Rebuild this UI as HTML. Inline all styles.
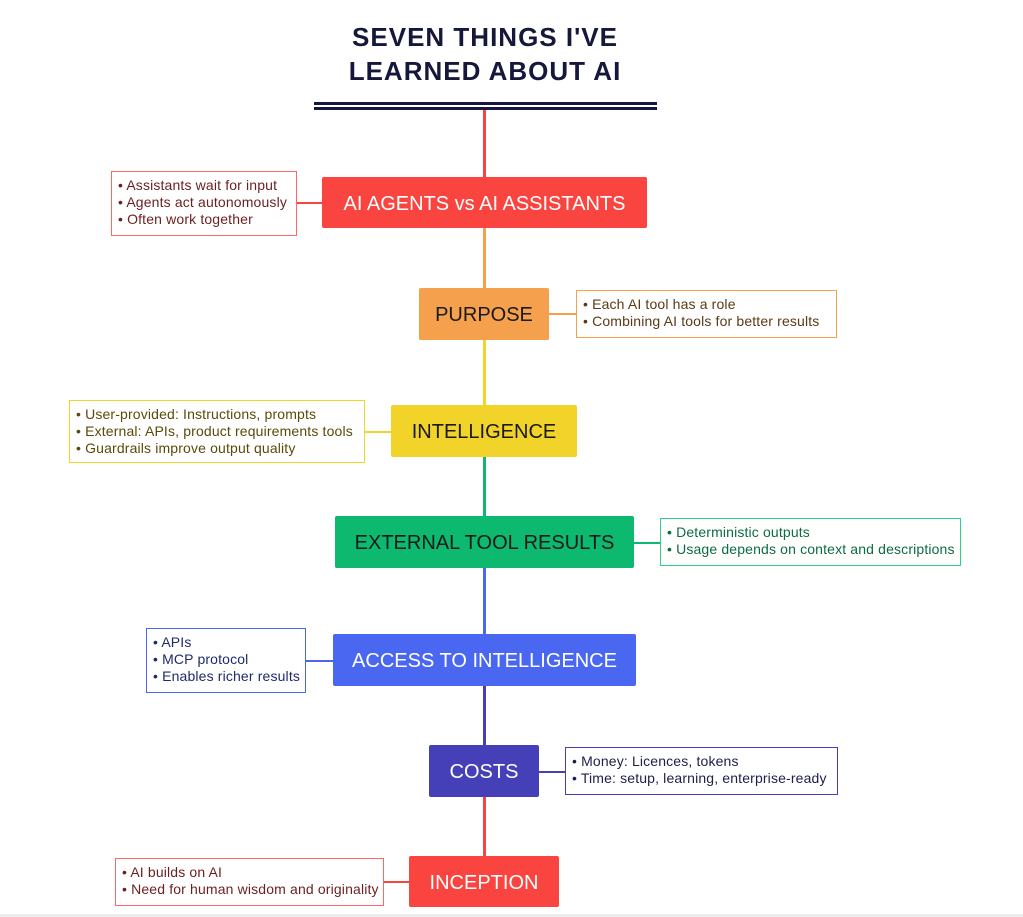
<!DOCTYPE html>
<html><head><meta charset="utf-8"><style>
body{margin:0;width:1023px;height:917px;background:#fff;position:relative;overflow:hidden;font-family:"Liberation Sans",sans-serif}
.a{position:absolute}
.n{position:absolute;display:flex;align-items:center;justify-content:center;font-size:20px;box-sizing:border-box;border-radius:2px;padding-top:3px}
.b{position:absolute;background:#fff;box-sizing:border-box;border:1.5px solid;font-size:14px;letter-spacing:0.15px;line-height:17px;padding:5px 0 0 6px;white-space:nowrap}
.v{position:absolute;width:3px}
.h{position:absolute;height:1.5px}
</style></head><body>
<div class="a" style="left:300px;top:20px;width:370px;text-align:center;font-size:26px;font-weight:bold;color:#15183a;line-height:34px;letter-spacing:1px">SEVEN THINGS I'VE<br>LEARNED ABOUT AI</div>
<div class="a" style="left:314px;top:102px;width:343px;height:3px;background:#15183a"></div>
<div class="a" style="left:314px;top:107px;width:343px;height:3px;background:#15183a"></div>

<div class="v" style="left:483px;top:110px;height:67px;background:#f94440"></div>
<div class="v" style="left:483px;top:228px;height:60px;background:#f4a04c"></div>
<div class="v" style="left:483px;top:340px;height:65px;background:#f2d32a"></div>
<div class="v" style="left:483px;top:457px;height:59px;background:#0db96f"></div>
<div class="v" style="left:483px;top:568px;height:66px;background:#4a67f2"></div>
<div class="v" style="left:483px;top:686px;height:59px;background:#4540b8"></div>
<div class="v" style="left:483px;top:797px;height:59px;background:#f94440"></div>

<div class="h" style="left:297px;top:202px;width:25px;background:#f94440"></div>
<div class="h" style="left:549px;top:313px;width:27px;background:#f4a04c"></div>
<div class="h" style="left:365px;top:431px;width:26px;background:#f2d32a"></div>
<div class="h" style="left:634px;top:542px;width:26px;background:#0db96f"></div>
<div class="h" style="left:306px;top:660px;width:27px;background:#4a67f2"></div>
<div class="h" style="left:539px;top:771px;width:26px;background:#4540b8"></div>
<div class="h" style="left:384px;top:881px;width:25px;background:#f94440"></div>

<div class="n" style="left:322px;top:177px;width:325px;height:51px;background:#f94440;color:#fff">AI AGENTS vs AI ASSISTANTS</div>
<div class="n" style="left:419px;top:288px;width:130px;height:52px;background:#f4a04c;color:#1a1a1a">PURPOSE</div>
<div class="n" style="left:391px;top:405px;width:186px;height:52px;background:#f2d32a;color:#1a1a1a">INTELLIGENCE</div>
<div class="n" style="left:335px;top:516px;width:299px;height:52px;background:#0db96f;color:#1a1a1a">EXTERNAL TOOL RESULTS</div>
<div class="n" style="left:333px;top:634px;width:303px;height:52px;background:#4a67f2;color:#fff">ACCESS TO INTELLIGENCE</div>
<div class="n" style="left:429px;top:745px;width:110px;height:52px;background:#4540b8;color:#fff">COSTS</div>
<div class="n" style="left:409px;top:856px;width:150px;height:51px;background:#f94440;color:#fff">INCEPTION</div>

<div class="b" style="left:111px;top:171px;width:186px;height:65px;border-color:#f66;color:#6b1f1f">• Assistants wait for input<br>• Agents act autonomously<br>• Often work together</div>
<div class="b" style="left:576px;top:290px;width:261px;height:48px;border-color:#f4a04c;color:#5a3a14">• Each AI tool has a role<br>• Combining AI tools for better results</div>
<div class="b" style="left:69px;top:400px;width:296px;height:63px;border-color:#f2d32a;color:#5a4a0a">• User-provided: Instructions, prompts<br>• External: APIs, product requirements tools<br>• Guardrails improve output quality</div>
<div class="b" style="left:660px;top:518px;width:301px;height:48px;border-color:#2fcf8a;color:#0d6b42">• Deterministic outputs<br>• Usage depends on context and descriptions</div>
<div class="b" style="left:146px;top:628px;width:160px;height:65px;border-color:#4a67f2;color:#1e2a6b">• APIs<br>• MCP protocol<br>• Enables richer results</div>
<div class="b" style="left:565px;top:747px;width:273px;height:48px;border-color:#4540b8;color:#1e1e4a">• Money: Licences, tokens<br>• Time: setup, learning, enterprise-ready</div>
<div class="b" style="left:115px;top:858px;width:269px;height:48px;border-color:#f66;color:#6b1f1f">• AI builds on AI<br>• Need for human wisdom and originality</div>

<div class="a" style="left:0;top:914px;width:1023px;height:3px;background:#ececec"></div>
</body></html>
